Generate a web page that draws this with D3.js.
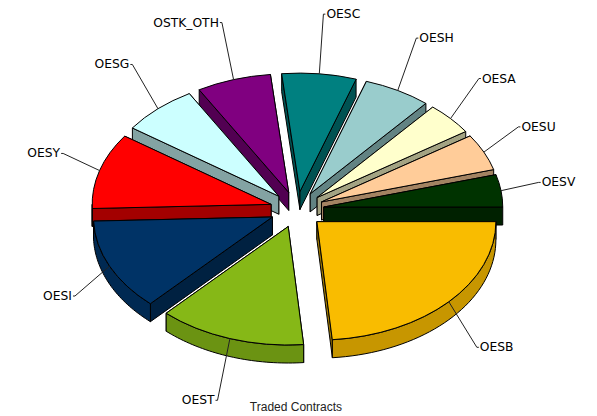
<!DOCTYPE html>
<html><head><meta charset="utf-8">
<script src="https://cdn.jsdelivr.net/npm/d3@7"></script>
<style>html,body{margin:0;padding:0;background:#fff}svg{display:block}</style>
</head><body><svg id="c" width="597" height="416"></svg>
<script>
const categories = ["OESB","OEST","OESI","OESY","OESG","OSTK_OTH","OESC","OESH","OESA","OESU","OESV"];
const values = [23.6,13.3,12.5,10.3,6.9,6.7,6.7,6.1,4.4,5.0,4.4];
const colors = ["#F9BC00","#86B817","#003366","#FF0000","#CCFFFF","#800080","#008080","#99CCCC","#FFFFCC","#FFCC99","#003300"];
const title = "Traded Contracts";

const cx=297, cy=209.5, rx=179, ry=118.5, depth=18, exX=27, exY=18, legX=38, legY=60, legDown=5;
const svg=d3.select("#c");
const arcs=d3.pie().sort(null).value(d=>d).startAngle(Math.PI/2).endAngle(Math.PI*2.5)(values);
const unitArc=d3.arc().innerRadius(0).outerRadius(1);
const sc=a=>[Math.sin(a),-Math.cos(a)];
const shade=(c,k)=>{const r=d3.rgb(c);return d3.rgb(r.r*k,r.g*k,r.b*k).formatHex();};

const slices=arcs.map((a,i)=>{
  const mid=(a.startAngle+a.endAngle)/2,[c,s]=sc(mid);
  return {a,i,mid,c,s,ax:cx+exX*c,ay:cy+exY*s};
});
const stroke={stroke:"#000","stroke-width":1,"stroke-linejoin":"round"};
const apply=(sel,o)=>{for(const k in o)sel.attr(k,o[k]);return sel;};
const line=d3.line();

[...slices].sort((p,q)=>p.s-q.s).forEach(p=>{
  const g=svg.append("g"),col=colors[p.i];
  const rim=a=>{const [c,s]=sc(a);return [p.ax+rx*c,p.ay+ry*s];};
  // radial walls: the one facing further back goes first so the nearer one covers it
  [p.a.startAngle,p.a.endAngle].sort((u,v)=>sc(u)[1]-sc(v)[1]).forEach(a=>{
    const e=rim(a);
    apply(g.append("path").attr("d",line([[p.ax,p.ay],e,[e[0],e[1]+depth],[p.ax,p.ay+depth]])+"Z").attr("fill",shade(col,.64)),stroke);
  });
  const lo=Math.max(p.a.startAngle,Math.PI/2),hi=Math.min(p.a.endAngle,Math.PI*1.5);
  if(hi>lo){
    const pts=d3.range(0,41).map(k=>rim(lo+(hi-lo)*k/40));
    const poly=pts.concat(pts.slice().reverse().map(q=>[q[0],q[1]+depth]));
    apply(g.append("path").attr("d",line(poly)+"Z").attr("fill",shade(col,.8)),stroke);
  }
  apply(g.append("path")
    .attr("d",unitArc(p.a))
    .attr("transform",`translate(${p.ax},${p.ay}) scale(${rx},${ry})`)
    .attr("vector-effect","non-scaling-stroke")
    .attr("fill",col),stroke);
});

slices.forEach(p=>{
  const sx=p.ax+rx*p.c, sy=p.ay+ry*p.s;
  const ex=sx+legX*p.c, ey=sy+legY*p.s+(p.s>0?legDown:0), dir=p.c>=0?1:-1;
  svg.append("path").attr("d",line([[sx,sy],[ex,ey],[ex+dir*2,ey]]))
    .attr("fill","none").attr("stroke","#222").attr("stroke-width",1);
  svg.append("text").attr("x",ex+dir*3).attr("y",ey+4)
    .attr("text-anchor",dir>0?"start":"end")
    .attr("font-family","'DejaVu Sans'").attr("font-size",12.3).attr("fill","#000")
    .text(categories[p.i]);
});

svg.append("text").attr("x",296).attr("y",411).attr("text-anchor","middle")
  .attr("font-family","'Liberation Sans'").attr("font-size",12).attr("fill","#222").text(title);
</script></body></html>
